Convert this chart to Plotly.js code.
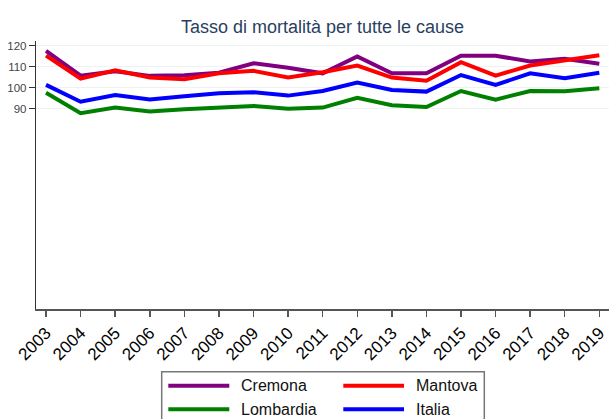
<!DOCTYPE html>
<html>
<head>
<meta charset="utf-8">
<script src="https://cdn.plot.ly/plotly-3.0.1.min.js"></script>
<style>html,body{margin:0;padding:0;background:#fff;}#chart{width:610px;height:419px;}</style>
</head>
<body>
<div id="chart"></div>
<script>
const years = [2003,2004,2005,2006,2007,2008,2009,2010,2011,2012,2013,2014,2015,2016,2017,2018,2019];
const cremona   = [117.5,105.7,107.8,105.6,105.9,107.1,111.6,109.5,106.8,114.8,106.8,106.8,115.2,115.2,112.4,113.7,111.4];
const mantova   = [115.2,104.3,108.3,104.8,104.0,106.8,108.0,104.8,107.3,110.5,104.8,103.3,112.1,105.7,110.5,112.9,115.4];
const lombardia = [97.6,87.8,90.5,88.6,89.7,90.7,91.3,90.0,90.5,95.2,91.6,90.8,98.4,94.3,98.4,98.3,99.7];
const italia    = [101.3,93.3,96.5,94.3,95.9,97.3,97.8,96.2,98.4,102.4,98.9,98.1,106.0,101.3,106.8,104.5,107.1];
const seriesNames = ["Cremona","Mantova","Lombardia","Italia"];
const yTicks = [90,100,110,120];
const titleText = "Tasso di mortalità per tutte le cause";

const colors = ["#800080","#ff0000","#008000","#0000ff"];
const values = [cremona, mantova, lombardia, italia];
const FONT = "Liberation Sans, Arial, sans-serif";

const traces = values.map((v,i)=>({
  x: years, y: v, type: "scatter", mode: "lines", name: seriesNames[i],
  line: {color: colors[i], width: 4}, showlegend: false
}));

// plot area in pixels
const L = 36, R = 609, T = 41, B = 309, W = 610, H = 419;
const px = x => (x - L) / (R - L);
const py = y => (B - y) / (B - T);

// custom legend (2 columns)
const shapes = [{
  type: "rect", xref: "paper", yref: "paper",
  x0: px(161.7), x1: px(484.3), y0: py(371.7), y1: py(440),
  line: {color: "#777", width: 1.5}, fillcolor: "rgba(0,0,0,0)"
}];
const annotations = [];
const cols = [{lx0:168.3, lx1:229.3, tx:239.3},{lx0:343.3, lx1:404, tx:414}];
const rows = [385.7, 409.3];
seriesNames.forEach((n,i)=>{
  const c = cols[i%2], r = rows[Math.floor(i/2)];
  shapes.push({type:"line", xref:"paper", yref:"paper",
    x0: px(c.lx0), x1: px(c.lx1), y0: py(r), y1: py(r),
    line:{color: colors[i], width: 4}});
  annotations.push({xref:"paper", yref:"paper", x: px(c.tx), y: py(r),
    xanchor:"left", yanchor:"middle", showarrow:false, text: n,
    font:{family: FONT, size: 16, color:"#111"}});
});

const layout = {
  width: W, height: H,
  margin: {l: L, r: W - R, t: T, b: H - B, pad: 0},
  paper_bgcolor: "#fff", plot_bgcolor: "#fff",
  font: {family: FONT},
  title: {text: titleText, x: 0.5, xref: "paper", y: 1 - 27/H, yref: "container",
          xanchor: "center", yanchor: "middle",
          font: {family: FONT, size: 18, color: "#2a3f5f"}},
  xaxis: {
    range: [2002.71, 2019.28], tickvals: years, ticktext: years.map(String),
    tickangle: -45, ticks: "outside", ticklen: 6, tickwidth: 1.5, tickcolor: "#555",
    showline: true, linecolor: "#555", linewidth: 1.5, showgrid: false, zeroline: false,
    tickfont: {family: FONT, size: 17, color: "#000"}
  },
  yaxis: {
    range: [-5.4, 122.2], tickvals: yTicks, ticktext: yTicks.map(String),
    ticks: "outside", ticklen: 6, tickwidth: 1.2, tickcolor: "#333",
    showline: true, linecolor: "#333", linewidth: 1.2,
    showgrid: true, gridcolor: "#edf2f2", gridwidth: 1.5, zeroline: false,
    tickfont: {family: FONT, size: 11.5, color: "#444"}
  },
  shapes: shapes, annotations: annotations, showlegend: false
};

Plotly.newPlot("chart", traces, layout, {displayModeBar: false, staticPlot: true});
</script>
</body>
</html>
